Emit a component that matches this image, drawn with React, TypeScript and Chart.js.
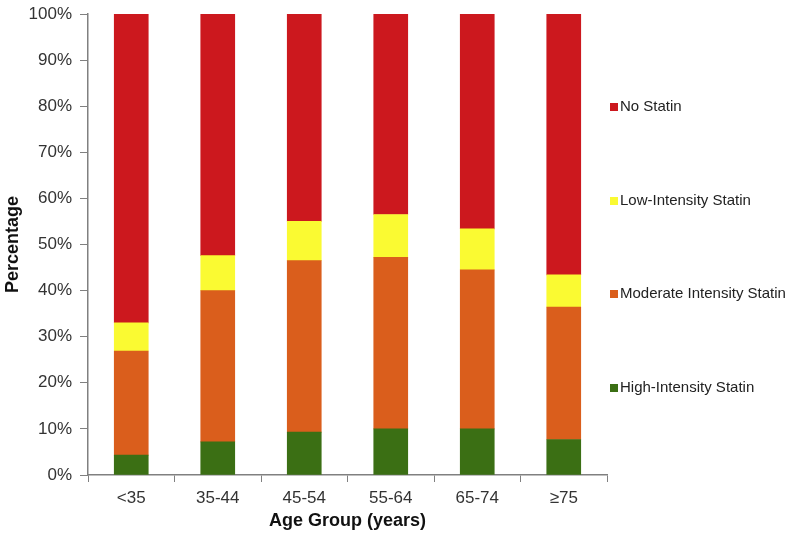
import React, { useEffect, useRef } from "react";
import { Chart, registerables } from "chart.js";

Chart.register(...registerables);

const categories = ["<35", "35-44", "45-54", "55-64", "65-74", "≥75"];
const highIntensity = [4.3, 7.2, 9.3, 10.0, 10.0, 7.7];
const moderateIntensity = [22.6, 32.8, 37.2, 37.2, 34.5, 28.7];
const lowIntensity = [6.1, 7.6, 8.5, 9.3, 8.9, 7.0];
const noStatin = [67.0, 52.4, 45.0, 43.5, 46.6, 56.6];
const seriesLabels = ["High-Intensity Statin", "Moderate Intensity Statin", "Low-Intensity Statin", "No Statin"];
const seriesColors = ["#3B6F14", "#DA5E1C", "#FAFA32", "#CC181E"];
const yTicks = [0, 10, 20, 30, 40, 50, 60, 70, 80, 90, 100];

const FONT = "Arial, 'Liberation Sans', sans-serif";

const legendPlugin = {
  id: "sideLegend",
  afterDraw(chart: any) {
    const ctx = chart.ctx;
    const ds = chart.data.datasets;
    const rowsY = [107, 201, 294, 388];
    ctx.save();
    ctx.font = "15px " + FONT;
    ctx.textBaseline = "middle";
    ctx.textAlign = "left";
    for (let i = 0; i < ds.length; i++) {
      const d = ds[ds.length - 1 - i];
      const y = rowsY[i];
      ctx.fillStyle = d.backgroundColor;
      ctx.fillRect(610, y - 4, 8, 8);
      ctx.fillStyle = "#222222";
      ctx.fillText(d.label, 620, y);
    }
    ctx.restore();
  },
};

export default function App() {
  const ref = useRef<HTMLCanvasElement | null>(null);
  useEffect(() => {
    if (!ref.current) return;
    const datasets = [highIntensity, moderateIntensity, lowIntensity, noStatin].map((data, i) => ({
      label: seriesLabels[i],
      data,
      backgroundColor: seriesColors[i],
      borderWidth: 0,
      barThickness: 34,
    }));
    const chart = new Chart(ref.current, {
      type: "bar",
      data: { labels: categories, datasets },
      plugins: [legendPlugin],
      options: {
        animation: false,
        responsive: false,
        maintainAspectRatio: false,
        layout: { padding: { left: 0, right: 193, top: 14, bottom: 0 } },
        plugins: { legend: { display: false }, tooltip: { enabled: false } },
        scales: {
          x: {
            stacked: true,
            grid: { drawOnChartArea: false, drawTicks: true, tickLength: 7, color: "#808080", offset: true },
            border: { color: "#808080", width: 1.5 },
            ticks: { color: "#333333", font: { size: 17, family: FONT }, padding: 6 },
            title: {
              display: true,
              text: "Age Group (years)",
              color: "#111111",
              font: { size: 18, weight: "bold", family: FONT },
              padding: { top: 0, bottom: 3 },
            },
            afterFit(scale: any) {
              scale.height = 60;
              scale.paddingLeft = 0;
              scale.paddingRight = 0;
            },
          },
          y: {
            stacked: true,
            min: 0,
            max: 100,
            afterBuildTicks(scale: any) { scale.ticks = yTicks.map((v) => ({ value: v })); },
            grid: { drawOnChartArea: false, drawTicks: true, tickLength: 8, color: "#808080" },
            border: { color: "#808080", width: 1.5 },
            ticks: {
              color: "#333333",
              font: { size: 17, family: FONT },
              padding: 8,
              callback: (v: any) => v + "%",
            },
            title: {
              display: true,
              text: "Percentage",
              color: "#111111",
              font: { size: 18, weight: "bold", family: FONT },
              padding: { top: 2, bottom: 0 },
            },
            afterFit(scale: any) {
              scale.width = 88;
              scale.paddingTop = 0;
              scale.paddingBottom = 0;
            },
          },
        },
      },
    });
    return () => chart.destroy();
  }, []);
  return (
    <div style={{ position: "fixed", left: 0, top: 0, width: 800, height: 535, background: "#fff" }}>
      <canvas ref={ref} width={800} height={535} style={{ width: 800, height: 535, display: "block" }} />
    </div>
  );
}
